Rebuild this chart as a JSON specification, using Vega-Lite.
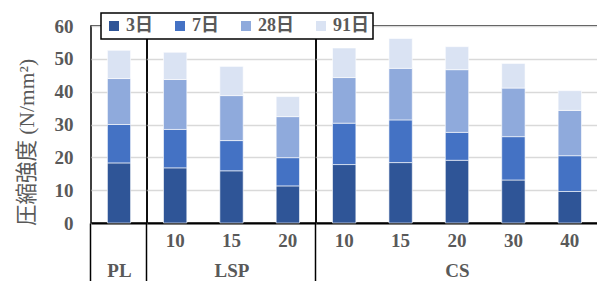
{
  "$schema": "https://vega.github.io/schema/vega-lite/v6.json",
  "padding": {"left": 15, "top": 12, "right": 0, "bottom": 0},
  "background": "white",
  "bounds": "flush",
  "data": {"values": [
    {"grp": "PL", "sub": "PL", "age": "3日", "days": 3, "v": 18.3},
    {"grp": "PL", "sub": "PL", "age": "7日", "days": 7, "v": 11.7},
    {"grp": "PL", "sub": "PL", "age": "28日", "days": 28, "v": 14.0},
    {"grp": "PL", "sub": "PL", "age": "91日", "days": 91, "v": 8.6},
    {"grp": "LSP", "sub": "10", "age": "3日", "days": 3, "v": 16.8},
    {"grp": "LSP", "sub": "10", "age": "7日", "days": 7, "v": 11.7},
    {"grp": "LSP", "sub": "10", "age": "28日", "days": 28, "v": 15.2},
    {"grp": "LSP", "sub": "10", "age": "91日", "days": 91, "v": 8.3},
    {"grp": "LSP", "sub": "15", "age": "3日", "days": 3, "v": 15.9},
    {"grp": "LSP", "sub": "15", "age": "7日", "days": 7, "v": 9.2},
    {"grp": "LSP", "sub": "15", "age": "28日", "days": 28, "v": 13.7},
    {"grp": "LSP", "sub": "15", "age": "91日", "days": 91, "v": 8.9},
    {"grp": "LSP", "sub": "20", "age": "3日", "days": 3, "v": 11.3},
    {"grp": "LSP", "sub": "20", "age": "7日", "days": 7, "v": 8.6},
    {"grp": "LSP", "sub": "20", "age": "28日", "days": 28, "v": 12.5},
    {"grp": "LSP", "sub": "20", "age": "91日", "days": 91, "v": 6.1},
    {"grp": "CS", "sub": "10", "age": "3日", "days": 3, "v": 17.8},
    {"grp": "CS", "sub": "10", "age": "7日", "days": 7, "v": 12.6},
    {"grp": "CS", "sub": "10", "age": "28日", "days": 28, "v": 13.9},
    {"grp": "CS", "sub": "10", "age": "91日", "days": 91, "v": 9.0},
    {"grp": "CS", "sub": "15", "age": "3日", "days": 3, "v": 18.4},
    {"grp": "CS", "sub": "15", "age": "7日", "days": 7, "v": 13.0},
    {"grp": "CS", "sub": "15", "age": "28日", "days": 28, "v": 15.7},
    {"grp": "CS", "sub": "15", "age": "91日", "days": 91, "v": 9.1},
    {"grp": "CS", "sub": "20", "age": "3日", "days": 3, "v": 19.1},
    {"grp": "CS", "sub": "20", "age": "7日", "days": 7, "v": 8.5},
    {"grp": "CS", "sub": "20", "age": "28日", "days": 28, "v": 19.1},
    {"grp": "CS", "sub": "20", "age": "91日", "days": 91, "v": 7.0},
    {"grp": "CS", "sub": "30", "age": "3日", "days": 3, "v": 13.1},
    {"grp": "CS", "sub": "30", "age": "7日", "days": 7, "v": 13.2},
    {"grp": "CS", "sub": "30", "age": "28日", "days": 28, "v": 14.8},
    {"grp": "CS", "sub": "30", "age": "91日", "days": 91, "v": 7.5},
    {"grp": "CS", "sub": "40", "age": "3日", "days": 3, "v": 9.6},
    {"grp": "CS", "sub": "40", "age": "7日", "days": 7, "v": 10.9},
    {"grp": "CS", "sub": "40", "age": "28日", "days": 28, "v": 13.8},
    {"grp": "CS", "sub": "40", "age": "91日", "days": 91, "v": 6.0}
  ]},
  "spacing": 0,
  "hconcat": [
    {
      "width": 56, "height": 197,
      "transform": [{"filter": "datum.grp == 'PL'"}],
      "layer": [
        {
          "mark": {"type": "bar", "stroke": "white", "strokeWidth": 0.6},
          "encoding": {
            "x": {"field": "sub", "type": "nominal", "sort": null,
                  "scale": {"paddingInner": 0.586, "paddingOuter": 0.293},
                  "axis": {"title": "PL", "labelOpacity": 0, "orient": "bottom"}},
            "y": {"field": "v", "type": "quantitative", "stack": "zero",
                  "scale": {"domain": [0, 60]},
                  "axis": {"values": [0, 10, 20, 30, 40, 50, 60], "grid": true, "ticks": false, "domain": false,
                           "labelFont": "Liberation Serif", "labelFontWeight": "bold", "labelFontSize": 19,
                           "labelColor": "#595959", "labelPadding": 18,
                           "title": "圧縮強度 (N/mm²)", "titleFont": "Liberation Serif, Noto Sans CJK JP",
                           "titleFontSize": 21.5, "titleFontWeight": "normal", "titleColor": "#595959", "titlePadding": 16,
                           "titleY": 116}},
            "color": {"field": "age", "type": "nominal",
                      "scale": {"domain": ["3日", "7日", "28日", "91日"], "range": ["#2F5597", "#4472C4", "#8FAADC", "#DAE3F3"]}},
            "order": {"field": "days", "type": "quantitative"}
          }
        },
        {
          "mark": {"type": "rule", "opacity": 0},
          "encoding": {
            "x": {"field": "sub", "type": "nominal", "sort": null,
                  "axis": {"orient": "bottom", "values": ["PL"], "bandPosition": -0.708, "ticks": true, "tickSize": 59,
                           "tickColor": "black", "tickWidth": 1.5, "labels": false, "domain": false, "grid": false, "title": null}}
          }
        }
      ],
      "resolve": {"axis": {"x": "independent"}}
    },
    {
      "width": 169, "height": 197,
      "transform": [{"filter": "datum.grp == 'LSP'"}],
      "layer": [
        {
          "mark": {"type": "bar", "stroke": "white", "strokeWidth": 0.6},
          "encoding": {
            "x": {"field": "sub", "type": "nominal", "sort": null,
                  "scale": {"paddingInner": 0.586, "paddingOuter": 0.293},
                  "axis": {"title": "LSP", "orient": "bottom"}},
            "y": {"field": "v", "type": "quantitative", "stack": "zero",
                  "scale": {"domain": [0, 60]},
                  "axis": {"values": [0, 10, 20, 30, 40, 50, 60], "grid": true, "ticks": false, "tickSize": 0, "domain": false, "labels": false, "title": null}},
            "color": {"field": "age", "type": "nominal",
                      "scale": {"domain": ["3日", "7日", "28日", "91日"], "range": ["#2F5597", "#4472C4", "#8FAADC", "#DAE3F3"]}},
            "order": {"field": "days", "type": "quantitative"}
          }
        },
        {
          "mark": {"type": "rule", "opacity": 0},
          "encoding": {
            "x": {"field": "sub", "type": "nominal", "sort": null,
                  "axis": {"orient": "bottom", "values": ["10"], "bandPosition": -0.708, "ticks": true, "tickSize": 59,
                           "tickColor": "black", "tickWidth": 1.5, "labels": false, "domain": false, "grid": false, "title": null}}
          }
        }
      ],
      "resolve": {"axis": {"x": "independent"}}
    },
    {
      "width": 282, "height": 197,
      "transform": [{"filter": "datum.grp == 'CS'"}],
      "layer": [
        {
          "mark": {"type": "bar", "stroke": "white", "strokeWidth": 0.6},
          "encoding": {
            "x": {"field": "sub", "type": "nominal", "sort": null,
                  "scale": {"paddingInner": 0.586, "paddingOuter": 0.293},
                  "axis": {"title": "CS", "orient": "bottom"}},
            "y": {"field": "v", "type": "quantitative", "stack": "zero",
                  "scale": {"domain": [0, 60]},
                  "axis": {"values": [0, 10, 20, 30, 40, 50, 60], "grid": true, "ticks": false, "tickSize": 0, "domain": false, "labels": false, "title": null}},
            "color": {"field": "age", "type": "nominal",
                      "scale": {"domain": ["3日", "7日", "28日", "91日"], "range": ["#2F5597", "#4472C4", "#8FAADC", "#DAE3F3"]}},
            "order": {"field": "days", "type": "quantitative"}
          }
        },
        {
          "mark": {"type": "rule", "opacity": 0},
          "encoding": {
            "x": {"field": "sub", "type": "nominal", "sort": null,
                  "axis": {"orient": "bottom", "values": ["10"], "bandPosition": -0.708, "ticks": true, "tickSize": 59,
                           "tickColor": "black", "tickWidth": 1.5, "labels": false, "domain": false, "grid": false, "title": null}}
          }
        }
      ],
      "resolve": {"axis": {"x": "independent"}}
    }
  ],
  "resolve": {"scale": {"y": "shared", "color": "shared"}},
  "config": {
    "view": {"stroke": "black", "strokeWidth": 1.5},
    "axis": {"gridColor": "#D9D9D9", "gridWidth": 1.3},
    "axisX": {"domain": true, "domainColor": "black", "domainWidth": 2, "ticks": false,
              "labelFont": "Liberation Serif", "labelFontWeight": "bold", "labelFontSize": 19, "labelColor": "#595959",
              "labelPadding": 8, "labelAngle": 0,
              "titleFont": "Liberation Serif", "titleFontWeight": "bold", "titleFontSize": 19, "titleColor": "#595959", "titlePadding": 11},
    "legend": {"orient": "none", "legendX": 10, "legendY": -13, "direction": "horizontal", "title": null,
               "symbolType": "square", "symbolSize": 100, "symbolStrokeWidth": 0,
               "labelFont": "Liberation Serif, Noto Sans CJK JP", "labelFontSize": 18, "labelFontWeight": "bold", "labelColor": "#595959",
               "labelOffset": 3, "columnPadding": 18, "padding": 4, "strokeColor": "black", "strokeWidth": 1.5, "fillColor": "white"}
  }
}
